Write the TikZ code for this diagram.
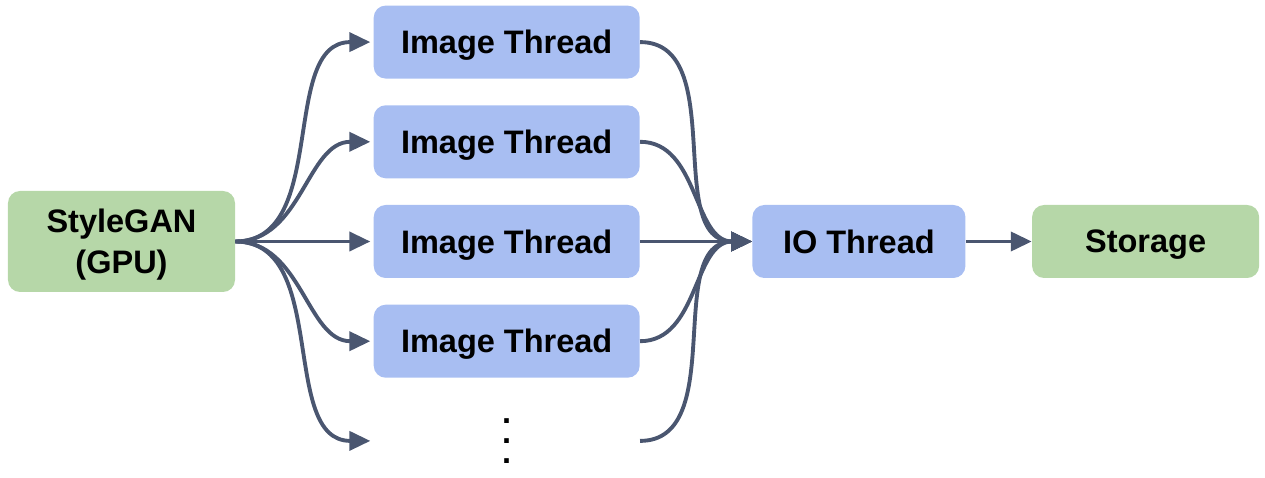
\documentclass[tikz,border=0pt]{standalone}
\usepackage{fontspec}
\setmainfont{Liberation Sans}
\usetikzlibrary{positioning, arrows.meta}
\definecolor{gangreen}{HTML}{B6D7A8}
\definecolor{threadblue}{HTML}{A8BEF2}
\definecolor{arrowgray}{HTML}{4A5670}

\begin{document}
\begin{tikzpicture}[
  font=\fontsize{18.5}{23.3}\selectfont\bfseries,
  block/.style={rounded corners=2.4mm, minimum height=14.6mm, align=center, inner sep=0pt, text depth=0pt},
  src/.style={block, fill=gangreen, minimum width=45.4mm, minimum height=20.2mm},
  thr/.style={block, fill=threadblue, minimum width=53.2mm},
  arr/.style={-{Triangle[length=4.2mm, width=3.8mm]}, line width=2.2pt, draw=arrowgray, shorten >=0.6mm},
]
  \useasboundingbox (0,0) rectangle (25.3,-9.56);
  \node[src] (gan) at (2.43,-4.83) {StyleGAN\\(GPU)};
  \node[thr, right=27.6mm of gan] (t3) {Image Thread};
  \node[thr, above=5.2mm of t3] (t2) {Image Thread};
  \node[thr, above=5.2mm of t2] (t1) {Image Thread};
  \node[thr, below=5.2mm of t3] (t4) {Image Thread};
  \node[block, minimum width=53.2mm, below=5.2mm of t4, font=\fontsize{18.5}{11.4}\selectfont\bfseries] (t5) {.\\.\\.};
  \node[thr, minimum width=42.6mm, right=22.4mm of t3] (io) {IO Thread};
  \node[src, minimum height=14.6mm, right=13.2mm of io] (store) {Storage};
  \foreach \t in {t1, t2, t3, t4, t5} \draw[arr] (gan.east) to[out=0, in=180] (\t.west);
  \foreach \t in {t1, t2, t3, t4, t5} \draw[arr, shorten >=0pt] (\t.east) to[out=0, in=180] (io.west);
  \draw[arr, shorten >=0pt] (io) -- (store);
\end{tikzpicture}
\end{document}
